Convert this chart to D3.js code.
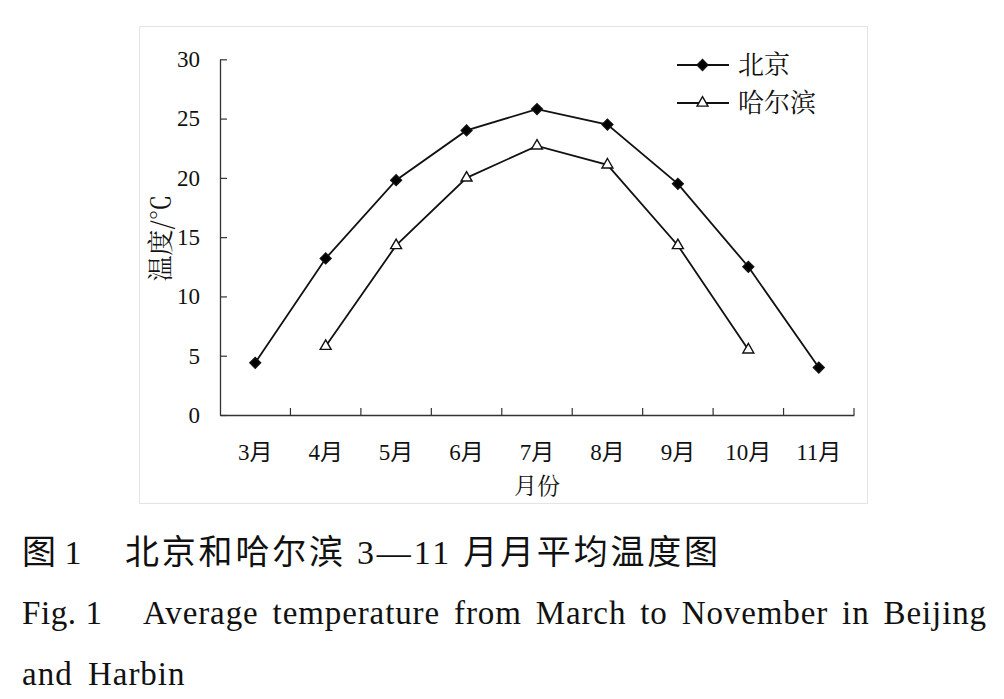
<!DOCTYPE html>
<html>
<head>
<meta charset="utf-8">
<script src="https://cdn.jsdelivr.net/npm/d3@7"></script>
<style>
body { margin: 0; background: #fff; }
text { fill: #111; }
</style>
</head>
<body>
<script>
// data
var months = ["3月", "4月", "5月", "6月", "7月", "8月", "9月", "10月", "11月"];
var beijing = [4.4, 13.2, 19.8, 24.0, 25.8, 24.5, 19.5, 12.5, 4.0];
var harbin = [null, 5.8, 14.3, 20.0, 22.7, 21.1, 14.3, 5.5, null];
var yTicks = [0, 5, 10, 15, 20, 25, 30];

var W = 1004, H = 699;
var latin = "'Liberation Serif', 'Noto Sans CJK SC', serif";
var cjk = "'Noto Serif CJK SC', 'Noto Sans CJK SC', sans-serif";

var svg = d3.select("body").append("svg")
  .attr("width", W)
  .attr("height", H);

// faint frame round the chart
svg.append("rect")
  .attr("x", 139.5).attr("y", 26.5)
  .attr("width", 728).attr("height", 477)
  .attr("fill", "#fff")
  .attr("stroke", "#e4e4e4");

var x = d3.scaleBand().domain(months).range([220, 854]).padding(0);
var y = d3.scaleLinear().domain([0, 30]).range([415, 59.3]);

// y axis, ticks pointing inward
var yAxis = svg.append("g")
  .attr("transform", "translate(220,0)")
  .call(d3.axisLeft(y).tickValues(yTicks).tickSizeInner(-7).tickSizeOuter(0).tickPadding(20));
yAxis.select(".domain").attr("stroke", "#333").attr("stroke-width", 1.3);
yAxis.selectAll(".tick line").attr("stroke", "#333").attr("stroke-width", 1.2);
yAxis.selectAll(".tick text")
  .style("font-family", latin).style("font-size", "23px").attr("fill", "#111");

// x axis: labels in band centres, ticks on band edges
var xAxis = svg.append("g")
  .attr("transform", "translate(0,415)")
  .call(d3.axisBottom(x).tickSize(0).tickSizeOuter(0));
xAxis.select(".domain").attr("stroke", "#333").attr("stroke-width", 1.3);
xAxis.selectAll(".tick text")
  .attr("y", 45).attr("dy", 0)
  .style("font-family", latin).style("font-size", "23px").attr("fill", "#111");

xAxis.selectAll(".edge")
  .data(months)
  .enter().append("line")
  .attr("class", "edge")
  .attr("x1", function(d) { return x(d) + x.bandwidth(); })
  .attr("x2", function(d) { return x(d) + x.bandwidth(); })
  .attr("y1", 0).attr("y2", -7)
  .attr("stroke", "#333").attr("stroke-width", 1.2);

// axis titles
svg.append("text")
  .attr("transform", "translate(170,238) rotate(-90)")
  .attr("text-anchor", "middle")
  .style("font-family", cjk).style("font-size", "26px")
  .text("温度/℃");

svg.append("text")
  .attr("x", 537).attr("y", 494)
  .attr("text-anchor", "middle")
  .style("font-family", cjk).style("font-size", "23px")
  .text("月份");

// lines
var line = d3.line()
  .defined(function(d) { return d.v != null; })
  .x(function(d) { return x(d.m) + x.bandwidth() / 2; })
  .y(function(d) { return y(d.v); });

function pack(vals) {
  return months.map(function(m, i) { return {m: m, v: vals[i]}; });
}

var series = [
  {name: "北京", data: pack(beijing), sym: d3.symbolSquare, size: 58, rot: 45, fill: "#000"},
  {name: "哈尔滨", data: pack(harbin), sym: d3.symbolTriangle, size: 52, rot: 0, fill: "#fff"}
];

series.forEach(function(s) {
  svg.append("path")
    .attr("d", line(s.data))
    .attr("fill", "none")
    .attr("stroke", "#111")
    .attr("stroke-width", 1.8);

  svg.selectAll(null)
    .data(s.data.filter(function(d) { return d.v != null; }))
    .enter().append("path")
    .attr("d", d3.symbol().type(s.sym).size(s.size))
    .attr("transform", function(d) {
      return "translate(" + (x(d.m) + x.bandwidth() / 2) + "," + y(d.v) + ") rotate(" + s.rot + ")";
    })
    .attr("fill", s.fill)
    .attr("stroke", "#111")
    .attr("stroke-width", 1.4);
});

// legend
var legend = svg.selectAll(".leg")
  .data(series)
  .enter().append("g")
  .attr("class", "leg")
  .attr("transform", function(d, i) { return "translate(677," + (65 + i * 38) + ")"; });

legend.append("line")
  .attr("x1", 0).attr("x2", 52)
  .attr("stroke", "#111").attr("stroke-width", 1.8);

legend.append("path")
  .attr("d", function(d) { return d3.symbol().type(d.sym).size(d.size)(); })
  .attr("transform", function(d) { return "translate(25.5,0) rotate(" + d.rot + ")"; })
  .attr("fill", function(d) { return d.fill; })
  .attr("stroke", "#111")
  .attr("stroke-width", 1.4);

legend.append("text")
  .attr("x", 61).attr("y", 9)
  .style("font-family", cjk).style("font-size", "26px")
  .text(function(d) { return d.name; });

// captions
var cap = svg.append("g");

cap.append("text")
  .attr("x", 22).attr("y", 564)
  .style("font-family", latin).style("font-size", "34px")
  .text("图 1");

cap.append("text")
  .attr("x", 125).attr("y", 564)
  .style("font-family", latin).style("font-size", "34px")
  .attr("textLength", 593).attr("lengthAdjust", "spacing")
  .text("北京和哈尔滨 3—11 月月平均温度图");

cap.append("text")
  .attr("x", 22).attr("y", 624)
  .style("font-family", latin).style("font-size", "33px")
  .style("letter-spacing", "0.6px")
  .text("Fig. 1");

var eng = cap.append("text")
  .attr("x", 143).attr("y", 624)
  .style("font-family", latin).style("font-size", "33px")
  .style("letter-spacing", "0.9px")
  .text("Average temperature from March to November in Beijing");

// spread words to fill the justified line
var natural = eng.node().getComputedTextLength();
var gaps = eng.text().split(" ").length - 1;
var extra = (987 - 143 - natural) / gaps;
if (extra > 0) eng.style("word-spacing", extra + "px");

cap.append("text")
  .attr("x", 22).attr("y", 685)
  .style("font-family", latin).style("font-size", "33px")
  .style("letter-spacing", "1px")
  .style("word-spacing", "6px")
  .text("and Harbin");
</script>
</body>
</html>
